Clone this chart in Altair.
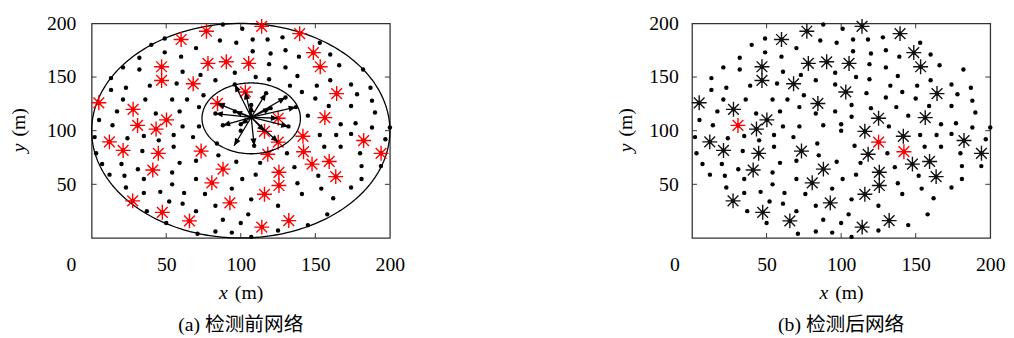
import altair as alt
import numpy as np
import pandas as pd

# ---------------- data (metres) ----------------
dot_x = [88, 101, 49, 86, 97, 40, 70, 49, 32, 60, 21, 32, 61, 96, 13, 73, 83, 39, 23, 13, 57, 96,
         54, 64, 75, 21, 36, 17, 43, 59, 72, 96, 83, 5, 14, 61, 72, 88, 100,
         108, 118, 128, 153, 108, 120, 130, 139, 160, 119, 130, 166, 182, 110, 119, 138, 160, 133,
         141, 151, 174, 187, 117, 130, 150, 178, 188, 107, 120, 137, 159, 174, 190, 107, 132, 145,
         167, 177, 188, 200,
         100, 2, 24, 35, 45, 55, 68, 84, 3, 34, 55, 85, 97, 7, 20, 31, 59, 70, 12, 22, 54, 35, 70,
         101, 23, 54, 35, 46, 62, 76, 94, 52, 61, 83, 37, 70, 88, 100, 50, 71, 83, 94,
         153, 164, 174, 197, 109, 131, 156, 167, 180, 113, 136, 152, 181, 194, 110, 138, 154, 174,
         181, 141, 107, 162, 125, 158, 105, 125, 145, 107]
dot_y = [199, 195, 186, 184, 182, 180, 177, 173, 168, 169, 159, 157, 155, 154, 149, 152, 147, 142,
         140, 138, 144, 143, 129, 129, 133, 129, 129, 118, 116, 118, 122, 118, 116, 110, 105, 104,
         104, 105, 106,
         185, 185, 187, 182, 174, 172, 175, 169, 171, 162, 159, 161, 157, 150, 148, 151, 147, 142,
         136, 142, 143, 140, 135, 131, 130, 134, 128, 124, 121, 122, 123, 123, 117, 113, 104, 114,
         106, 107, 103, 103,
         100, 94, 93, 95, 91, 96, 94, 88, 79, 81, 85, 77, 71, 69, 69, 64, 70, 72, 59, 58, 61, 55,
         55, 55, 47, 50, 42, 43, 42, 41, 46, 34, 32, 30, 25, 25, 17, 14, 14, 4, 6, 5,
         96, 96, 97, 92, 86, 79, 85, 85, 79, 70, 66, 58, 67, 67, 59, 51, 46, 47, 55, 41, 36, 37,
         30, 22, 22, 7, 12, 1]

star_x = [77, 114, 139.5, 60, 148.7, 153.3, 46.9, 78, 90.3, 105.3, 46.9, 68.1, 164.3, 103.1, 84.4,
          4.8, 27.8, 50.2, 30.8, 43.2, 125.1, 156.4, 115.9, 141.7, 125.1, 182.4, 11.9, 21.1, 44.7,
          73.4, 118.1, 142.1, 194.1, 147.8, 159.3, 41, 88.1, 125.6, 163.7, 80.6, 125.6, 115.9, 27.5,
          92.7, 47.4, 65.6, 114.1, 132.2]
star_y = [192.7, 197.2, 190.5, 185, 172.8, 159.6, 159.6, 162.7, 164.2, 162.7, 146.8, 143.7, 134.6,
          136.1, 125.4, 126, 119.9, 110.1, 104.9, 101.5, 111.6, 112.2, 99.4, 94.8, 89.3, 90.8, 89.6,
          81.6, 78.9, 81, 78, 80.4, 78.9, 68.8, 71.3, 63.3, 64.2, 61.2, 57.2, 51.4, 48.9, 40.7, 34.6,
          32.7, 23.9, 15.9, 10.1, 16.2]
# stars still flagged (red) after detection, panel (b)
red_after = [18, 24, 31]

# detecting node and the neighbours it points to (panel a)
hub_x, hub_y = 107, 112.5
arrow_x = [96, 103.1, 117, 130, 137, 84.4, 83, 88, 95.5, 109, 125.1, 132, 125.1, 115.9, 120, 100,
           96, 107]
arrow_y = [143, 136.1, 135, 131, 122, 125.4, 116, 105, 86, 86, 89.3, 104, 111.6, 99.4, 121, 106,
           118, 124]

# region circles (centre x, centre y, radius)
big_circle = (100, 100, 100)
small_circle = (107, 111.5, 33)

tick_vals = [50, 100, 150]
x_label_vals = [0, 50, 100, 150, 200]
y_label_vals = [50, 100, 150, 200]

# ---------------- styling ----------------
W, H = 303, 218
SERIF = "Liberation Serif"
CAPTION_FONT = "Liberation Serif, Noto Sans CJK SC"
STAR = "M0,-1L0,1M-1,0L1,0M-0.72,-0.72L0.72,0.72M-0.72,0.72L0.72,-0.72"
HEAD = "M0,0L-0.42,1L0.42,1Z"

xscale = alt.Scale(domain=[0, 200], nice=False, zero=False)
yscale = alt.Scale(domain=[0, 200], nice=False, zero=False)


def make_enc(y_pad, zero_shift):
    x_axis = alt.Axis(values=x_label_vals, title=None, ticks=False, domain=False,
                      grid=False, labelFlush=False, labelOverlap=False, labelPadding=17,
                      labelOffset={"condition": {"test": "datum.value === 0",
                                                 "value": zero_shift},
                                   "value": 0})
    y_axis = alt.Axis(values=y_label_vals, title=None, ticks=False, domain=False,
                      grid=False, labelFlush=False, labelOverlap=False, labelPadding=y_pad)
    return (alt.X("x:Q", scale=xscale, axis=x_axis),
            alt.Y("y:Q", scale=yscale, axis=y_axis))


dots = pd.DataFrame({"x": dot_x + star_x, "y": dot_y + star_y})
stars = pd.DataFrame({"x": star_x, "y": star_y})
stars["after"] = ["red" if i in red_after else "black" for i in range(len(star_x))]


def circle_df(c):
    t = np.linspace(0, 2 * np.pi, 241)
    return pd.DataFrame({"x": c[0] + c[2] * np.cos(t), "y": c[1] + c[2] * np.sin(t),
                         "o": np.arange(len(t))})


arrows = pd.DataFrame({"x": [hub_x] * len(arrow_x), "y": [hub_y] * len(arrow_x),
                       "x2": arrow_x, "y2": arrow_y})
arrows["ang"] = (np.degrees(np.arctan2((arrows.x2 - arrows.x) * W,
                                       (arrows.y2 - arrows.y) * H)) + 360) % 360
heads = arrows[["x2", "y2", "ang"]].rename(columns={"x2": "x", "y2": "y"})

ticks = pd.DataFrame({"x": tick_vals, "y": tick_vals})


def frame_ticks(X, Y):
    base = alt.Chart(ticks).mark_rule(color="#333", strokeWidth=1)
    return [
        base.encode(x=X, y=alt.value(H), y2=alt.value(H - 5)),
        base.encode(x=X, y=alt.value(0), y2=alt.value(5)),
        base.encode(y=Y, x=alt.value(0), x2=alt.value(5)),
        base.encode(y=Y, x=alt.value(W), x2=alt.value(W - 5)),
    ]


def axis_titles(y_title_x):
    """Axis titles 'x (m)' / 'y (m)' with the variable letter in italics."""
    out = []
    xt_y = H + 56
    out.append(alt.Chart(pd.DataFrame({"t": ["x"]})).mark_text(
        font=SERIF, fontSize=20, fontStyle="italic", align="left", baseline="middle",
        color="black").encode(text="t:N", x=alt.value(W / 2 - 22), y=alt.value(xt_y)))
    out.append(alt.Chart(pd.DataFrame({"t": ["(m)"]})).mark_text(
        font=SERIF, fontSize=20, align="left", baseline="middle",
        color="black").encode(text="t:N", x=alt.value(W / 2 - 6), y=alt.value(xt_y)))
    out.append(alt.Chart(pd.DataFrame({"t": ["y"]})).mark_text(
        font=SERIF, fontSize=20, fontStyle="italic", align="left", baseline="middle",
        angle=270, color="black").encode(text="t:N", x=alt.value(y_title_x),
                                         y=alt.value(H / 2 + 22)))
    out.append(alt.Chart(pd.DataFrame({"t": ["(m)"]})).mark_text(
        font=SERIF, fontSize=20, align="left", baseline="middle",
        angle=270, color="black").encode(text="t:N", x=alt.value(y_title_x),
                                         y=alt.value(H / 2 + 6)))
    return out


def circle_layer(c, X, Y):
    return alt.Chart(circle_df(c)).mark_line(color="black", strokeWidth=1.3).encode(
        x=X, y=Y, order="o:Q")


def caption(text):
    return alt.TitleParams(text, orient="bottom", font=CAPTION_FONT, fontSize=20,
                           fontWeight="normal", color="black", offset=13, anchor="middle")


# ---- panel (a) ----
XA, YA = make_enc(16, -21)
left = alt.layer(
    circle_layer(big_circle, XA, YA),
    alt.Chart(dots).mark_circle(color="black", size=20, opacity=1).encode(x=XA, y=YA),
    alt.Chart(stars).mark_point(shape=STAR, size=230, strokeWidth=1.4, color="#ff0000",
                                filled=False, opacity=1).encode(x=XA, y=YA),
    circle_layer(small_circle, XA, YA),
    alt.Chart(arrows).mark_rule(color="black", strokeWidth=1.3).encode(
        x=XA, y=YA, x2="x2:Q", y2="y2:Q"),
    alt.Chart(heads).mark_point(shape=HEAD, size=220, filled=True, color="black",
                                opacity=1).encode(x=XA, y=YA,
                                                  angle=alt.Angle("ang:Q", scale=None)),
    *frame_ticks(XA, YA),
    *axis_titles(-74),
).properties(width=W, height=H, title=caption("(a) 检测前网络"))

# ---- panel (b) ----
XB, YB = make_enc(14, -18)
right = alt.layer(
    alt.Chart(dots).mark_circle(color="black", size=20, opacity=1).encode(x=XB, y=YB),
    alt.Chart(stars).mark_point(shape=STAR, size=230, strokeWidth=1.4, filled=False,
                                opacity=1).encode(
        x=XB, y=YB,
        color=alt.Color("after:N", scale=alt.Scale(domain=["red", "black"],
                                                   range=["#ff0000", "#111111"]),
                        legend=None)),
    *frame_ticks(XB, YB),
    *axis_titles(-67),
).properties(width=W, height=H, title=caption("(b) 检测后网络"))

chart = alt.hconcat(
    left, right, spacing=213, background="white",
    padding={"left": 0, "top": 2, "right": 0, "bottom": 0}
).configure_view(
    stroke="#333", strokeWidth=1.3
).configure_axis(
    labelFont=SERIF, labelFontSize=20, labelColor="black"
)

chart.save("out.html", embed_options={"renderer": "svg", "actions": False})
